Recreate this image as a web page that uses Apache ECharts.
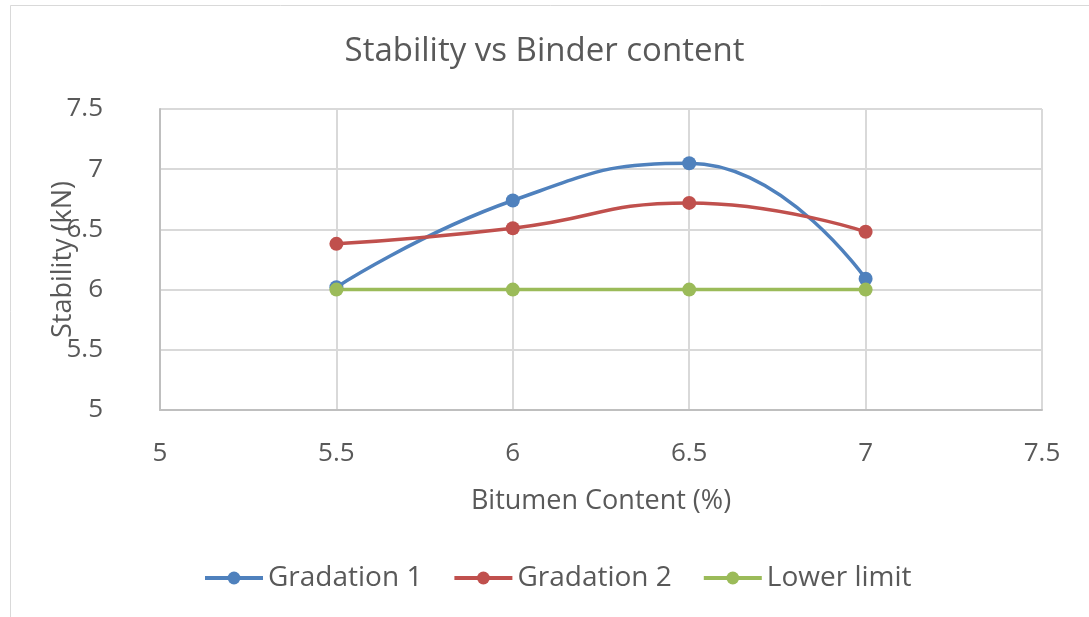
<!DOCTYPE html>
<html>
<head>
<meta charset="utf-8">
<script src="https://cdn.jsdelivr.net/npm/echarts@6/dist/echarts.min.js"></script>
<style>
  html, body { margin: 0; padding: 0; background: #fff; }
  #main { width: 1089px; height: 617px; }
</style>
</head>
<body>
<div id="main"></div>
<script>
// data
var bitumen = [5.5, 6, 6.5, 7];
var gradation1 = [6.02, 6.74, 7.05, 6.09];
var gradation2 = [6.38, 6.51, 6.72, 6.48];
var lowerLimit = [6, 6, 6, 6];

function pairs(xs, ys) {
  return xs.map(function (x, i) { return [x, ys[i]]; });
}

var font = '"Open Sans", sans-serif';
var textColor = '#595959';

var chart = echarts.init(document.getElementById('main'));
chart.setOption({
  backgroundColor: '#fff',
  animation: false,
  graphic: [{
    type: 'rect',
    shape: { x: 10.5, y: 5.5, width: 1200, height: 700 },
    style: { fill: 'none', stroke: '#d9d9d9', lineWidth: 1 },
    silent: true
  }],
  title: {
    text: 'Stability vs Binder content',
    left: 'center',
    top: 30,
    textStyle: { fontFamily: font, fontSize: 33, fontWeight: 'normal', color: textColor }
  },
  grid: { left: 160, right: 47, top: 109, bottom: 207 },
  xAxis: {
    type: 'value',
    min: 5, max: 7.5, interval: 0.5,
    name: 'Bitumen Content (%)',
    nameLocation: 'middle',
    nameGap: 78,
    nameMoveOverlap: false,
    nameTextStyle: { fontFamily: font, fontSize: 27, color: textColor },
    axisLine: { show: true, lineStyle: { color: '#bfbfbf', width: 2 } },
    axisTick: { show: false },
    axisLabel: { fontFamily: font, fontSize: 26, color: textColor, margin: 31 },
    splitLine: { show: true, lineStyle: { color: '#d9d9d9', width: 2 } }
  },
  yAxis: {
    type: 'value',
    min: 5, max: 7.5, interval: 0.5,
    name: 'Stability (kN)',
    nameLocation: 'middle',
    nameGap: 83,
    nameMoveOverlap: false,
    nameTextStyle: { fontFamily: font, fontSize: 27, color: textColor },
    axisLine: { show: true, lineStyle: { color: '#bfbfbf', width: 2 } },
    axisTick: { show: false },
    axisLabel: { fontFamily: font, fontSize: 26, color: textColor, margin: 57 },
    splitLine: { show: true, lineStyle: { color: '#d9d9d9', width: 2 } }
  },
  legend: {
    bottom: 20,
    left: 198,
    itemWidth: 58,
    itemHeight: 16,
    itemGap: 30,
    lineStyle: { width: 4 },
    textStyle: { fontFamily: font, fontSize: 28, color: textColor },
    data: ['Gradation 1', 'Gradation 2', 'Lower limit']
  },
  series: [
    {
      name: 'Gradation 1', type: 'line', smooth: 0.5,
      data: pairs(bitumen, gradation1),
      symbol: 'circle', symbolSize: 14,
      itemStyle: { color: '#4f81bd' },
      lineStyle: { color: '#4f81bd', width: 3.5 }
    },
    {
      name: 'Gradation 2', type: 'line', smooth: 0.5,
      data: pairs(bitumen, gradation2),
      symbol: 'circle', symbolSize: 14,
      itemStyle: { color: '#c0504d' },
      lineStyle: { color: '#c0504d', width: 3.5 }
    },
    {
      name: 'Lower limit', type: 'line',
      data: pairs(bitumen, lowerLimit),
      symbol: 'circle', symbolSize: 14,
      itemStyle: { color: '#9bbb59' },
      lineStyle: { color: '#9bbb59', width: 3.5 }
    }
  ]
});
</script>
</body>
</html>
